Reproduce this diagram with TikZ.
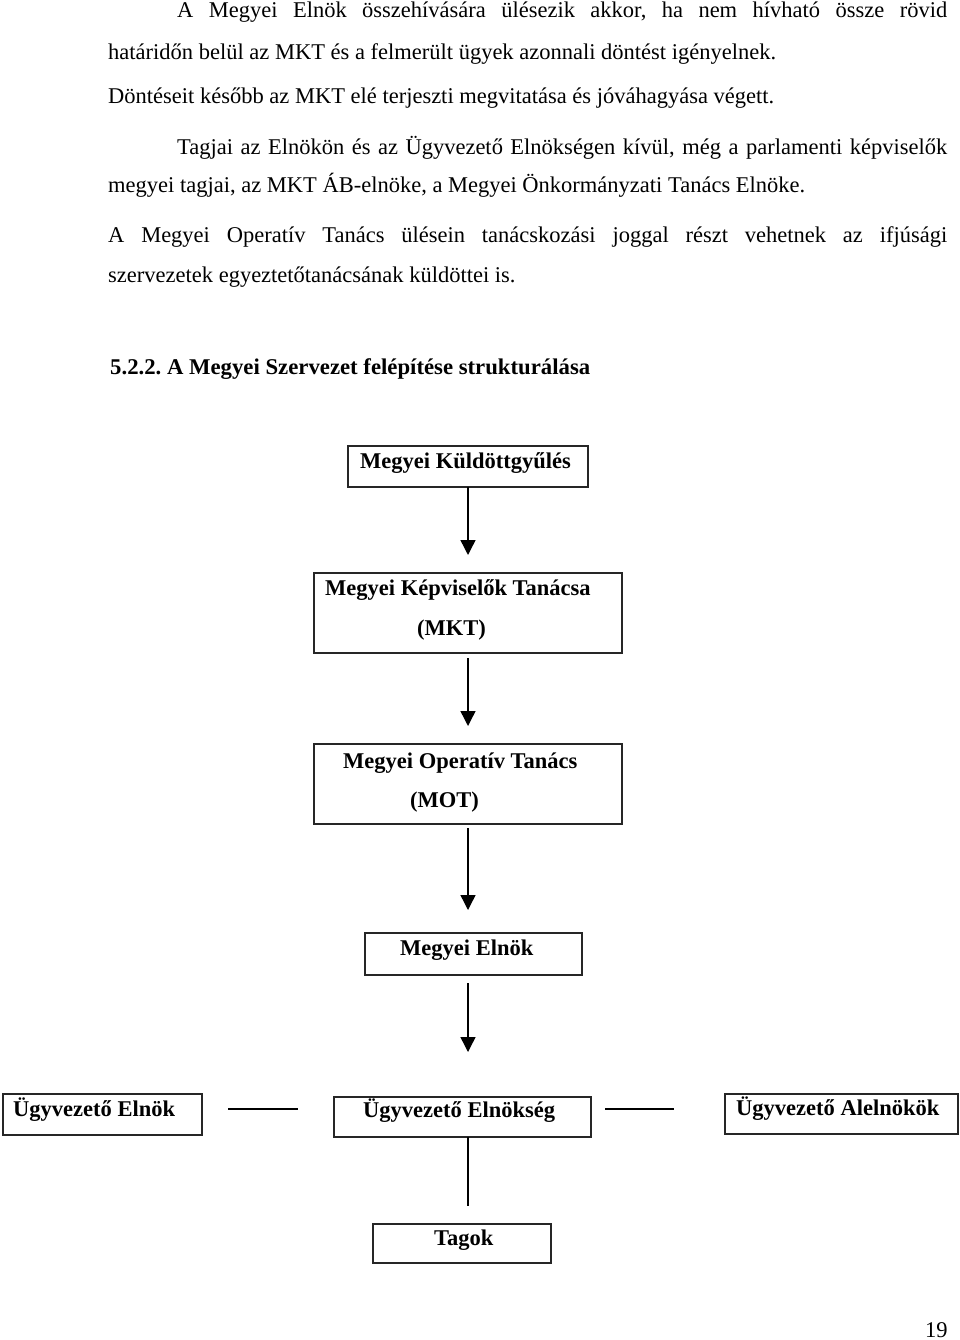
\documentclass[tikz,border=0pt]{standalone}
\usepackage{fontspec}
\setmainfont{Liberation Serif}
\usetikzlibrary{arrows.meta,calc}
\newcommand{\fitw}[2]{\resizebox{#1}{\height}{#2}}
\frenchspacing
\begin{document}
\begin{tikzpicture}[x=1pt,y=-1pt,
  box/.style={draw=black!85, line width=1.2pt, anchor=north west, inner sep=0pt, outer sep=0pt},
  btxt/.style={anchor=base west, inner sep=0pt, font=\fontsize{22.5}{27}\selectfont\bfseries},
  body/.style={anchor=base west, inner sep=0pt, font=\fontsize{22.5}{27}\selectfont},
  arr/.style={line width=1.4pt, -{Triangle[length=15pt,width=15pt]}},
  conn/.style={line width=1.4pt}]
\useasboundingbox (0,0) rectangle (960,1340);
% body text
\node[body] (l1) at (177,18) {\makebox[770pt][s]{A Megyei Elnök összehívására ülésezik akkor, ha nem hívható össze rövid}};
\node[body] (l2) at (108,60) {határidőn belül az MKT és a felmerült ügyek azonnali döntést igényelnek.};
\node[body] (l3) at (108,104) {Döntéseit később az MKT elé terjeszti megvitatása és jóváhagyása végett.};
\node[body] (l4) at (177,155) {\makebox[770pt][s]{Tagjai az Elnökön és az Ügyvezető Elnökségen kívül, még a parlamenti képviselők}};
\node[body] (l5) at (108,193) {megyei tagjai, az MKT ÁB-elnöke, a Megyei Önkormányzati Tanács Elnöke.};
\node[body] (l6) at (108,243) {\makebox[839pt][s]{A Megyei Operatív Tanács ülésein tanácskozási joggal részt vehetnek az ifjúsági}};
\node[body] (l7) at (108,282) {szervezetek egyeztetőtanácsának küldöttei is.};
\node[btxt] (head) at (110,374) {\fitw{480pt}{5.2.2. A Megyei Szervezet felépítése strukturálása}};
\node[body] (page) at (925,1337) {19};
% boxes
\node[box, minimum width=240pt, minimum height=41pt] (kgy) at (348,446) {};
\node[box, minimum width=308pt, minimum height=80pt] (mkt) at (314,573) {};
\node[box, minimum width=308pt, minimum height=80pt] (mot) at (314,744) {};
\node[box, minimum width=217pt, minimum height=42pt] (mel) at (365,933) {};
\node[box, minimum width=199pt, minimum height=41pt] (ue) at (3,1094) {};
\node[box, minimum width=257pt, minimum height=40pt] (ues) at (334,1097) {};
\node[box, minimum width=233pt, minimum height=40pt] (ua) at (725,1094) {};
\node[box, minimum width=178pt, minimum height=39pt] (tag) at (373,1224) {};
% box texts
\node[btxt] (kgyt) at (360,468) {Megyei Küldöttgyűlés};
\node[btxt] (mkt1) at (325,595) {Megyei Képviselők Tanácsa};
\node[btxt] (mkt2) at (417,635) {(MKT)};
\node[btxt] (mot1) at (343,768) {Megyei Operatív Tanács};
\node[btxt] (mot2) at (410,807) {(MOT)};
\node[btxt] (melt) at (400,955) {Megyei Elnök};
\node[btxt] (uet) at (13,1116) {Ügyvezető Elnök};
\node[btxt] (uest) at (363,1117) {Ügyvezető Elnökség};
\node[btxt] (uat) at (736,1115) {Ügyvezető Alelnökök};
\node[btxt] (tagt) at (434,1245) {Tagok};
% connectors
\coordinate (sp) at (468,0);
\draw[arr] (kgy.south -| sp) -- ($(mkt.north -| sp)+(0,-18)$);
\draw[arr] ($(mkt.south -| sp)+(0,5)$) -- ($(mot.north -| sp)+(0,-18)$);
\draw[arr] ($(mot.south -| sp)+(0,4)$) -- ($(mel.north -| sp)+(0,-23)$);
\draw[arr] ($(mel.south -| sp)+(0,8)$) -- ($(ues.north -| sp)+(0,-45)$);
\draw[conn] (ues.south -| sp) -- ($(tag.north -| sp)+(0,-18)$);
\draw[conn] ($(ue.east)+(26,-5.5)$) -- ($(ues.west)+(-36,-8)$);
\draw[conn] ($(ues.east)+(14,-8)$) -- ($(ua.west)+(-51,-5)$);
\end{tikzpicture}
\end{document}
